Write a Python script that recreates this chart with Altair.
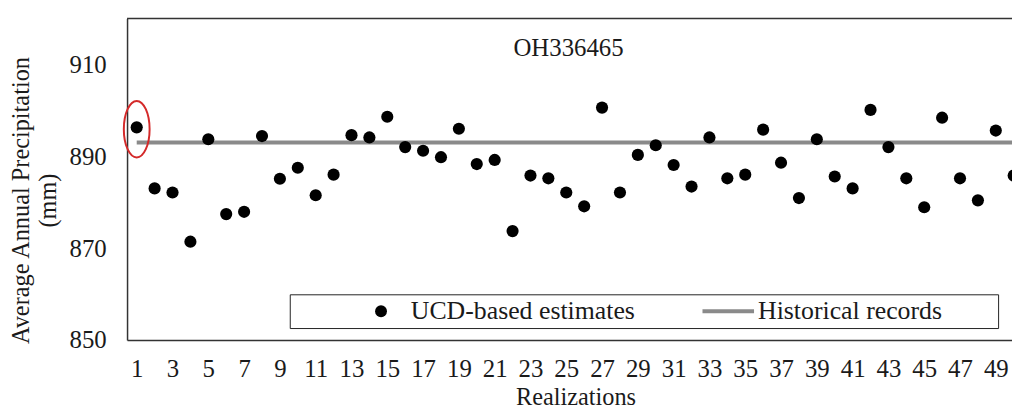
import altair as alt
import pandas as pd

# ---------------- data ----------------
realizations = list(range(1, 51))
ucd_estimates = [896.3, 883.0, 882.1, 871.4, 893.7, 877.4, 877.9, 894.4, 885.1, 887.5,
                 881.5, 886.0, 894.6, 894.1, 898.6, 892.0, 891.2, 889.8, 896.0, 888.3,
                 889.2, 873.7, 885.8, 885.2, 882.1, 879.1, 900.6, 882.1, 890.3, 892.4,
                 888.1, 883.4, 894.1, 885.2, 886.0, 895.8, 888.6, 880.9, 893.7, 885.6,
                 883.0, 900.1, 892.0, 885.2, 878.9, 898.4, 885.2, 880.4, 895.6, 885.8]
historical_record = 893.0
series_names = ["UCD-based estimates", "Historical records"]
x_tick_values = list(range(1, 50, 2))
y_tick_values = [850, 870, 890, 910]
highlight_realization = [1]
highlight_center = [895.9]
station = "OH336465"

# ---------------- tables ----------------
df_pts = pd.DataFrame({"realization": realizations, "value": ucd_estimates,
                       "series": series_names[0]})
df_hist = pd.DataFrame({"x_start": [realizations[0]], "x_end": [realizations[-1]],
                        "value": [historical_record], "series": [series_names[1]]})
df_hl = pd.DataFrame({"realization": highlight_realization, "value": highlight_center})

FONT = "Liberation Serif"
TXT = "#1a1a1a"
GRAY = "#8a8a8a"
W, H = 892, 324

x_scale = alt.Scale(domain=[0.46, 49.905], nice=False, zero=False)
y_scale = alt.Scale(domain=[850, 920], nice=False, zero=False)
color_scale = alt.Scale(domain=series_names, range=["#000000", GRAY])
LINE_PATH = "M-4.33,0H4.33"
shape_scale = alt.Scale(domain=series_names, range=["circle", LINE_PATH])
sw_scale = alt.Scale(domain=series_names, range=[0, 4])

x_axis = alt.Axis(values=x_tick_values, format="d", grid=False, ticks=False, tickSize=0,
                  labelPadding=37, labelBaseline="alphabetic", labelFont=FONT,
                  labelFontSize=25, labelColor=TXT, labelFlush=False, labelOverlap=False,
                  labelSeparation=0,
                  domainColor="#333333", domainWidth=1.5,
                  title="Realizations", titleFont=FONT, titleFontSize=24.5,
                  titleFontWeight="normal", titleColor=TXT, titleX=452, titleY=65,
                  titleBaseline="alphabetic", titleAlign="center")
y_axis = alt.Axis(values=y_tick_values, format="d", grid=False, ticks=False, tickSize=0,
                  labelPadding=21, labelFont=FONT, labelFontSize=25, labelColor=TXT,
                  labelFlush=False, labelOverlap=False,
                  domainColor="#333333", domainWidth=1.5,
                  title=["Average Annual Precipitation", "(mm)"], titleFont=FONT,
                  titleFontSize=24.5, titleFontWeight="normal", titleColor=TXT,
                  titleAngle=270, titleX=-118, titleY=183, titleBaseline="top",
                  titleAlign="center", titleLineHeight=27)

nbsp = "\u00a0"
zw = "\u200b"
legend = alt.Legend(
    title=nbsp + zw, titleOrient="left", titlePadding=75, titleFont=FONT, titleFontSize=25,
    orient="none", legendX=164, legendY=278, direction="horizontal", columns=2,
    columnPadding=59, labelFont=FONT, labelFontSize=26, labelColor=TXT, labelOffset=17,
    labelLimit=500,
    labelExpr="datum.label == 'Historical records' ? datum.label + '" + nbsp * 8 + zw + "' : datum.label",
    symbolSize=144, symbolOpacity=1, symbolStrokeColor=GRAY,
    strokeColor="#222222", fillColor="white", padding=4,
)

hist = alt.Chart(df_hist).mark_rule(clip=True).encode(
    x=alt.X("x_start:Q", scale=x_scale, axis=x_axis),
    x2="x_end:Q",
    y=alt.Y("value:Q", scale=y_scale, axis=y_axis),
    color=alt.Color("series:N", scale=color_scale, legend=legend),
    strokeWidth=alt.StrokeWidth("series:N", scale=sw_scale, legend=legend),
)

points = alt.Chart(df_pts).mark_point(filled=True, size=150, opacity=1, clip=True).encode(
    x=alt.X("realization:Q", scale=x_scale, axis=x_axis),
    y=alt.Y("value:Q", scale=y_scale, axis=y_axis),
    color=alt.Color("series:N", scale=color_scale, legend=legend),
    shape=alt.Shape("series:N", scale=shape_scale, legend=legend),
    strokeWidth=alt.StrokeWidth("series:N", scale=sw_scale, legend=legend),
)

ELLIPSE = ("M0,-1C0.2519,-1,0.456,-0.5523,0.456,0C0.456,0.5523,0.2519,1,0,1"
           "C-0.2519,1,-0.456,0.5523,-0.456,0C-0.456,-0.5523,-0.2519,-1,0,-1Z")
highlight = alt.Chart(df_hl).mark_point(shape=ELLIPSE, size=3249, filled=False,
                                        stroke="#d42a2a", strokeWidth=2, opacity=1).encode(
    x=alt.X("realization:Q", scale=x_scale, axis=x_axis),
    y=alt.Y("value:Q", scale=y_scale, axis=y_axis),
)

top_border = alt.Chart(df_hist).mark_rule(color="#333333", strokeWidth=1.5).encode(
    x=alt.value(0), x2=alt.value(W), y=alt.value(0))

chart = alt.layer(hist, points, highlight, top_border).properties(
    width=W, height=H,
    autosize=alt.AutoSizeParams(type="none"),
    padding={"left": 120, "top": 9, "right": 0, "bottom": 66},
    background="white",
    title=alt.TitleParams(station, font=FONT, fontSize=25, fontWeight="normal", color=TXT,
                          anchor="middle", offset=-40, baseline="alphabetic", dx=-1, dy=24),
).configure_view(stroke=None)

chart.save("out.html", embed_options={"renderer": "svg", "actions": False})
